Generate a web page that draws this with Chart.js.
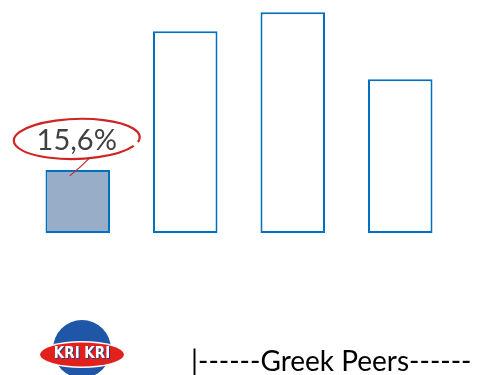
<!DOCTYPE html>
<html lang="en">
<head>
  <meta charset="UTF-8">
  <title>Kri Kri vs Greek Peers</title>
  <script src="https://cdn.jsdelivr.net/npm/chart.js"></script>
  <style>
    html, body { margin: 0; padding: 0; background: #fff; }
    #wrap { width: 479px; height: 375px; position: relative; }
  </style>
</head>
<body>
  <div id="wrap"><canvas id="peerChart" width="479" height="375"></canvas></div>

  <script>
    const companies = ['Kri Kri', 'Peer 1', 'Peer 2', 'Peer 3'];
    const values = [15.6, 49.9, 54.6, 38.0];
    const valueLabels = ['15,6%', '', '', ''];
    const fills = ['#98AEC8', '#ffffff', '#ffffff', '#ffffff'];
    const footerText = '|------Greek Peers------';

    // red circled label on the first bar, logo and footer text
    const extras = {
      id: 'extras',
      afterDraw(chart) {
        const ctx = chart.ctx;
        const xs = chart.scales.x, ys = chart.scales.y;
        const cx = xs.getPixelForValue(0);
        const top = ys.getPixelForValue(values[0]);

        ctx.save();
        ctx.fillStyle = '#404040';
        ctx.font = '29px Lato, "Open Sans", sans-serif';
        ctx.textAlign = 'center';
        ctx.textBaseline = 'alphabetic';
        ctx.fillText(valueLabels[0], cx - 1, top - 20);

        // hand drawn ellipse
        ctx.strokeStyle = '#CF2424';
        ctx.lineWidth = 2.2;
        ctx.beginPath();
        ctx.ellipse(cx - 1, top - 31, 63, 20, -0.03, 0.45, Math.PI * 2 + 0.25);
        ctx.stroke();
        ctx.lineWidth = 1.2;
        ctx.beginPath();
        ctx.moveTo(cx + 12, top - 12);
        ctx.quadraticCurveTo(cx + 2, top - 2, cx - 8, top + 6);
        ctx.stroke();

        // footer text
        ctx.fillStyle = '#000';
        ctx.font = '28px Lato, "Open Sans", sans-serif';
        ctx.textAlign = 'left';
        ctx.fillText(footerText, 191, 371);

        // logo
        const lx = 82, ly = 349;
        ctx.fillStyle = '#1F56A8';
        ctx.beginPath();
        ctx.arc(lx, ly, 29, 0, Math.PI * 2);
        ctx.fill();
        ctx.fillStyle = '#fff';
        ctx.beginPath();
        ctx.ellipse(lx, ly + 5.5, 43.5, 13.5, 0, 0, Math.PI * 2);
        ctx.fill();
        ctx.fillStyle = '#E2211C';
        ctx.beginPath();
        ctx.ellipse(lx, ly + 5.5, 42, 12, 0, 0, Math.PI * 2);
        ctx.fill();
        ctx.font = 'bold 15px "DejaVu Sans Condensed", "DejaVu Sans", sans-serif';
        ctx.textAlign = 'center';
        ctx.textBaseline = 'middle';
        ctx.fillStyle = '#1F3F8A';
        ctx.fillText('KRI KRI', lx + 1, ly + 6.5);
        ctx.fillStyle = '#fff';
        ctx.fillText('KRI KRI', lx, ly + 5.5);
        ctx.restore();
      }
    };

    const ctx = document.getElementById('peerChart').getContext('2d');
    new Chart(ctx, {
      type: 'bar',
      data: {
        labels: companies,
        datasets: [{
          data: values,
          backgroundColor: fills,
          borderColor: '#0070C0',
          borderWidth: 2,
          borderSkipped: false,
          barPercentage: 0.6,
          categoryPercentage: 1
        }]
      },
      options: {
        responsive: false,
        animation: false,
        layout: { padding: { left: 24, right: 25, top: 0, bottom: 142 } },
        plugins: { legend: { display: false }, tooltip: { enabled: false } },
        scales: {
          x: { display: false },
          y: { display: false, min: 0, max: 57.6 }
        }
      },
      plugins: [extras]
    });
  </script>
</body>
</html>
